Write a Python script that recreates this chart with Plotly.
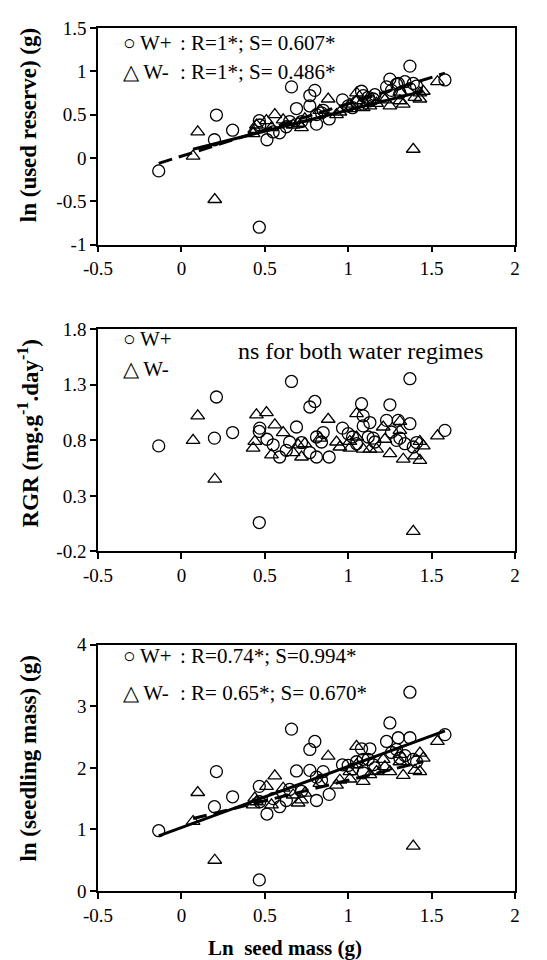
import plotly.graph_objects as go

# ---- data ----
x_wp = [-0.136, 0.198, 0.21, 0.307, 0.467, 0.467, 0.47, 0.513, 0.55, 0.589, 0.629, 0.649, 0.66, 0.69, 0.72,
        0.77, 0.77, 0.80, 0.81, 0.81, 0.84, 0.85, 0.886, 0.966, 1.0, 1.026, 1.05, 1.08, 1.09, 1.09, 1.12,
        1.13, 1.15, 1.16, 1.23, 1.25, 1.26, 1.29, 1.30, 1.31, 1.34, 1.37, 1.37, 1.39, 1.41, 1.58]
x_wm = [0.07, 0.098, 0.20, 0.43, 0.44, 0.45, 0.51, 0.54, 0.56, 0.61, 0.67, 0.70, 0.72, 0.74, 0.83, 0.88,
        0.93, 0.95, 1.01, 1.01, 1.05, 1.05, 1.09, 1.13, 1.17, 1.21, 1.22, 1.25, 1.31, 1.31, 1.33, 1.39,
        1.40, 1.43, 1.43, 1.45, 1.535]

reserve_wp = [-0.15, 0.21, 0.495, 0.32, -0.80, 0.43, 0.38, 0.21, 0.30, 0.29, 0.36, 0.42, 0.82, 0.57, 0.42,
              0.72, 0.60, 0.78, 0.39, 0.50, 0.52, 0.55, 0.45, 0.67, 0.60, 0.58, 0.64, 0.77, 0.72, 0.62, 0.70,
              0.66, 0.68, 0.73, 0.82, 0.91, 0.78, 0.85, 0.86, 0.75, 0.88, 1.06, 0.80, 0.86, 0.83, 0.90]
reserve_wm = [0.02, 0.30, -0.48, 0.28, 0.33, 0.38, 0.43, 0.35, 0.50, 0.44, 0.38, 0.40, 0.35, 0.45, 0.55, 0.68,
              0.50, 0.53, 0.57, 0.62, 0.75, 0.66, 0.58, 0.60, 0.63, 0.70, 0.67, 0.60, 0.76, 0.66, 0.62, 0.10,
              0.70, 0.68, 0.75, 0.77, 0.88]

rgr_wp = [0.75, 0.82, 1.19, 0.87, 0.06, 0.88, 0.91, 0.81, 0.76, 0.65, 0.71, 0.785, 1.33, 0.92, 0.78,
          0.69, 1.10, 1.15, 0.83, 0.65, 0.785, 0.87, 0.65, 0.91, 0.86, 0.83, 0.77, 1.13, 1.02, 0.93, 0.83,
          0.96, 0.82, 0.785, 0.98, 1.12, 0.875, 0.80, 0.98, 0.82, 0.77, 1.355, 0.95, 0.74, 0.78, 0.89]
rgr_wm = [0.80, 1.02, 0.45, 0.73, 0.79, 1.03, 1.05, 0.67, 0.94, 0.87, 0.69, 0.76, 0.65, 0.77, 0.82, 0.99,
          0.785, 0.74, 0.73, 0.79, 1.04, 0.83, 0.72, 0.72, 0.72, 0.92, 0.81, 0.68, 0.89, 0.97, 0.63, -0.02,
          0.66, 0.62, 0.79, 0.75, 0.84]

seedling_wp = [0.98, 1.37, 1.94, 1.53, 0.18, 1.70, 1.45, 1.25, 1.50, 1.37, 1.47, 1.65, 2.63, 1.95, 1.62,
               1.96, 2.30, 2.43, 1.47, 1.85, 1.80, 1.94, 1.57, 2.05, 2.04, 1.98, 2.10, 2.31, 2.14, 1.92, 2.14,
               2.31, 2.05, 2.00, 2.43, 2.73, 2.25, 2.30, 2.49, 2.16, 2.20, 3.23, 2.49, 2.14, 2.10, 2.54]
seedling_wm = [1.13, 1.60, 0.50, 1.40, 1.51, 1.45, 1.70, 1.40, 1.87, 1.67, 1.56, 1.43, 1.48, 1.59, 1.75, 2.19,
               1.72, 1.80, 1.94, 1.82, 2.35, 2.05, 1.78, 1.89, 1.94, 2.14, 2.02, 1.94, 2.10, 2.22, 1.88, 0.73,
               1.96, 1.94, 2.24, 2.16, 2.43]

# regression lines: slopes from the labels, intercepts and extents estimated
fit_reserve_wp = dict(slope=0.607, intercept=0.02, x=[-0.136, 1.58])
fit_reserve_wm = dict(slope=0.486, intercept=0.066, x=[0.07, 1.45])
fit_seedling_wp = dict(slope=0.994, intercept=1.03, x=[-0.136, 1.58])
fit_seedling_wm = dict(slope=0.670, intercept=1.13, x=[0.07, 1.45])

x_ticks = [-0.5, 0, 0.5, 1, 1.5, 2]
x_ticktext = ["-0.5", "0", "0.5", "1", "1.5", "2"]
y1_ticks = [-1, -0.5, 0, 0.5, 1, 1.5]
y1_ticktext = ["-1", "-0.5", "0", "0.5", "1", "1.5"]
y2_ticks = [-0.2, 0.3, 0.8, 1.3, 1.8]
y2_ticktext = ["-0.2", "0.3", "0.8", "1.3", "1.8"]
y3_ticks = [0, 1, 2, 3, 4]
y3_ticktext = ["0", "1", "2", "3", "4"]

FONT = "Liberation Serif"

fig = go.Figure()

circle = dict(symbol="circle-open", size=12, color="black", line=dict(width=1.3, color="black"))
tri = dict(symbol="triangle-up-open", size=12, color="black", line=dict(width=1.3, color="black"))


def line_pts(f):
    return f["x"], [f["slope"] * v + f["intercept"] for v in f["x"]]


# panel 1
fig.add_trace(go.Scatter(x=x_wp, y=reserve_wp, mode="markers", marker=circle, xaxis="x", yaxis="y"))
fig.add_trace(go.Scatter(x=x_wm, y=reserve_wm, mode="markers", marker=tri, xaxis="x", yaxis="y"))
lx, ly = line_pts(fit_reserve_wm)
fig.add_trace(go.Scatter(x=lx, y=ly, mode="lines", line=dict(color="black", width=3), xaxis="x", yaxis="y"))
lx, ly = line_pts(fit_reserve_wp)
fig.add_trace(go.Scatter(x=lx, y=ly, mode="lines", line=dict(color="black", width=3, dash="14px,7px"),
                         xaxis="x", yaxis="y"))

# panel 2
fig.add_trace(go.Scatter(x=x_wp, y=rgr_wp, mode="markers", marker=circle, xaxis="x2", yaxis="y2"))
fig.add_trace(go.Scatter(x=x_wm, y=rgr_wm, mode="markers", marker=tri, xaxis="x2", yaxis="y2"))

# panel 3
fig.add_trace(go.Scatter(x=x_wp, y=seedling_wp, mode="markers", marker=circle, xaxis="x3", yaxis="y3"))
fig.add_trace(go.Scatter(x=x_wm, y=seedling_wm, mode="markers", marker=tri, xaxis="x3", yaxis="y3"))
lx, ly = line_pts(fit_seedling_wp)
fig.add_trace(go.Scatter(x=lx, y=ly, mode="lines", line=dict(color="black", width=3), xaxis="x3", yaxis="y3"))
lx, ly = line_pts(fit_seedling_wm)
fig.add_trace(go.Scatter(x=lx, y=ly, mode="lines", line=dict(color="black", width=3, dash="14px,7px"),
                         xaxis="x3", yaxis="y3"))

axis_common = dict(showline=True, linecolor="black", linewidth=1.6, mirror=True, ticks="outside",
                   ticklen=6, tickcolor="black", tickwidth=1.5, showgrid=False, zeroline=False,
                   tickfont=dict(family=FONT, size=19, color="black"))

xcommon = dict(axis_common, range=[-0.5, 2], tickvals=x_ticks, ticktext=x_ticktext)

# the page body adds an 8px offset, so the figure is 8px smaller than the window
fig.update_layout(
    width=539, height=952,
    margin=dict(l=89.5, r=32, t=10, b=69.3),
    paper_bgcolor="white", plot_bgcolor="white",
    showlegend=False,
    xaxis=dict(xcommon, anchor="y"),
    xaxis2=dict(xcommon, anchor="y2"),
    xaxis3=dict(xcommon, anchor="y3"),
    yaxis=dict(axis_common, domain=[0.7491, 1.0], range=[-1, 1.5], tickvals=y1_ticks, ticktext=y1_ticktext,
               anchor="x"),
    yaxis2=dict(axis_common, domain=[0.3935, 0.6509], range=[-0.2, 1.8], tickvals=y2_ticks,
                ticktext=y2_ticktext, anchor="x2"),
    yaxis3=dict(axis_common, domain=[0.0, 0.2853], range=[0, 4], tickvals=y3_ticks, ticktext=y3_ticktext,
                anchor="x3"),
)

ann = []


def txt(text, x, y, xref, yref, size=21, xanchor="left", angle=0, yanchor="middle"):
    ann.append(dict(text=text, x=x, y=y, xref=xref, yref=yref, showarrow=False, xanchor=xanchor,
                    yanchor=yanchor, textangle=angle,
                    font=dict(family=FONT, size=size, color="black")))


# panel 1 legend
txt("○\u2009W+", 0.056, 0.931, "x domain", "y domain")
txt(": R=1*; S= 0.607*", 0.193, 0.931, "x domain", "y domain")
txt("△\u2009W-", 0.056, 0.795, "x domain", "y domain")
txt(": R=1*; S= 0.486*", 0.193, 0.795, "x domain", "y domain")
# panel 2 legend
txt("○\u2009W+", 0.056, 0.954, "x2 domain", "y2 domain")
txt("△\u2009W-", 0.056, 0.821, "x2 domain", "y2 domain")
txt("ns for both water regimes", 0.63, 0.90, "x2 domain", "y2 domain", size=24, xanchor="center")
# panel 3 legend
txt("○\u2009W+", 0.056, 0.955, "x3 domain", "y3 domain")
txt(": R=0.74*; S=0.994*", 0.193, 0.955, "x3 domain", "y3 domain")
txt("△\u2009W-", 0.056, 0.806, "x3 domain", "y3 domain")
txt(": R= 0.65*; S= 0.670*", 0.193, 0.806, "x3 domain", "y3 domain")

# axis titles
txt("<b>ln (used reserve) (g)</b>", -0.166, 0.55, "paper", "y domain", size=23, xanchor="center", angle=-90)
txt("<b>RGR (mg.g<sup>-1</sup>.day<sup>-1</sup>)</b>", -0.166, 0.53, "paper", "y2 domain", size=23,
    xanchor="center", angle=-90)
txt("<b>ln (seedling mass) (g)</b>", -0.166, 0.537, "paper", "y3 domain", size=23, xanchor="center", angle=-90)
txt("<b>Ln\u00a0 seed mass (g)</b>", (285 - 97.5) / 417.5, -0.066, "paper", "paper", size=21, xanchor="center")

fig.update_layout(annotations=ann)
fig.write_html("out.html")
